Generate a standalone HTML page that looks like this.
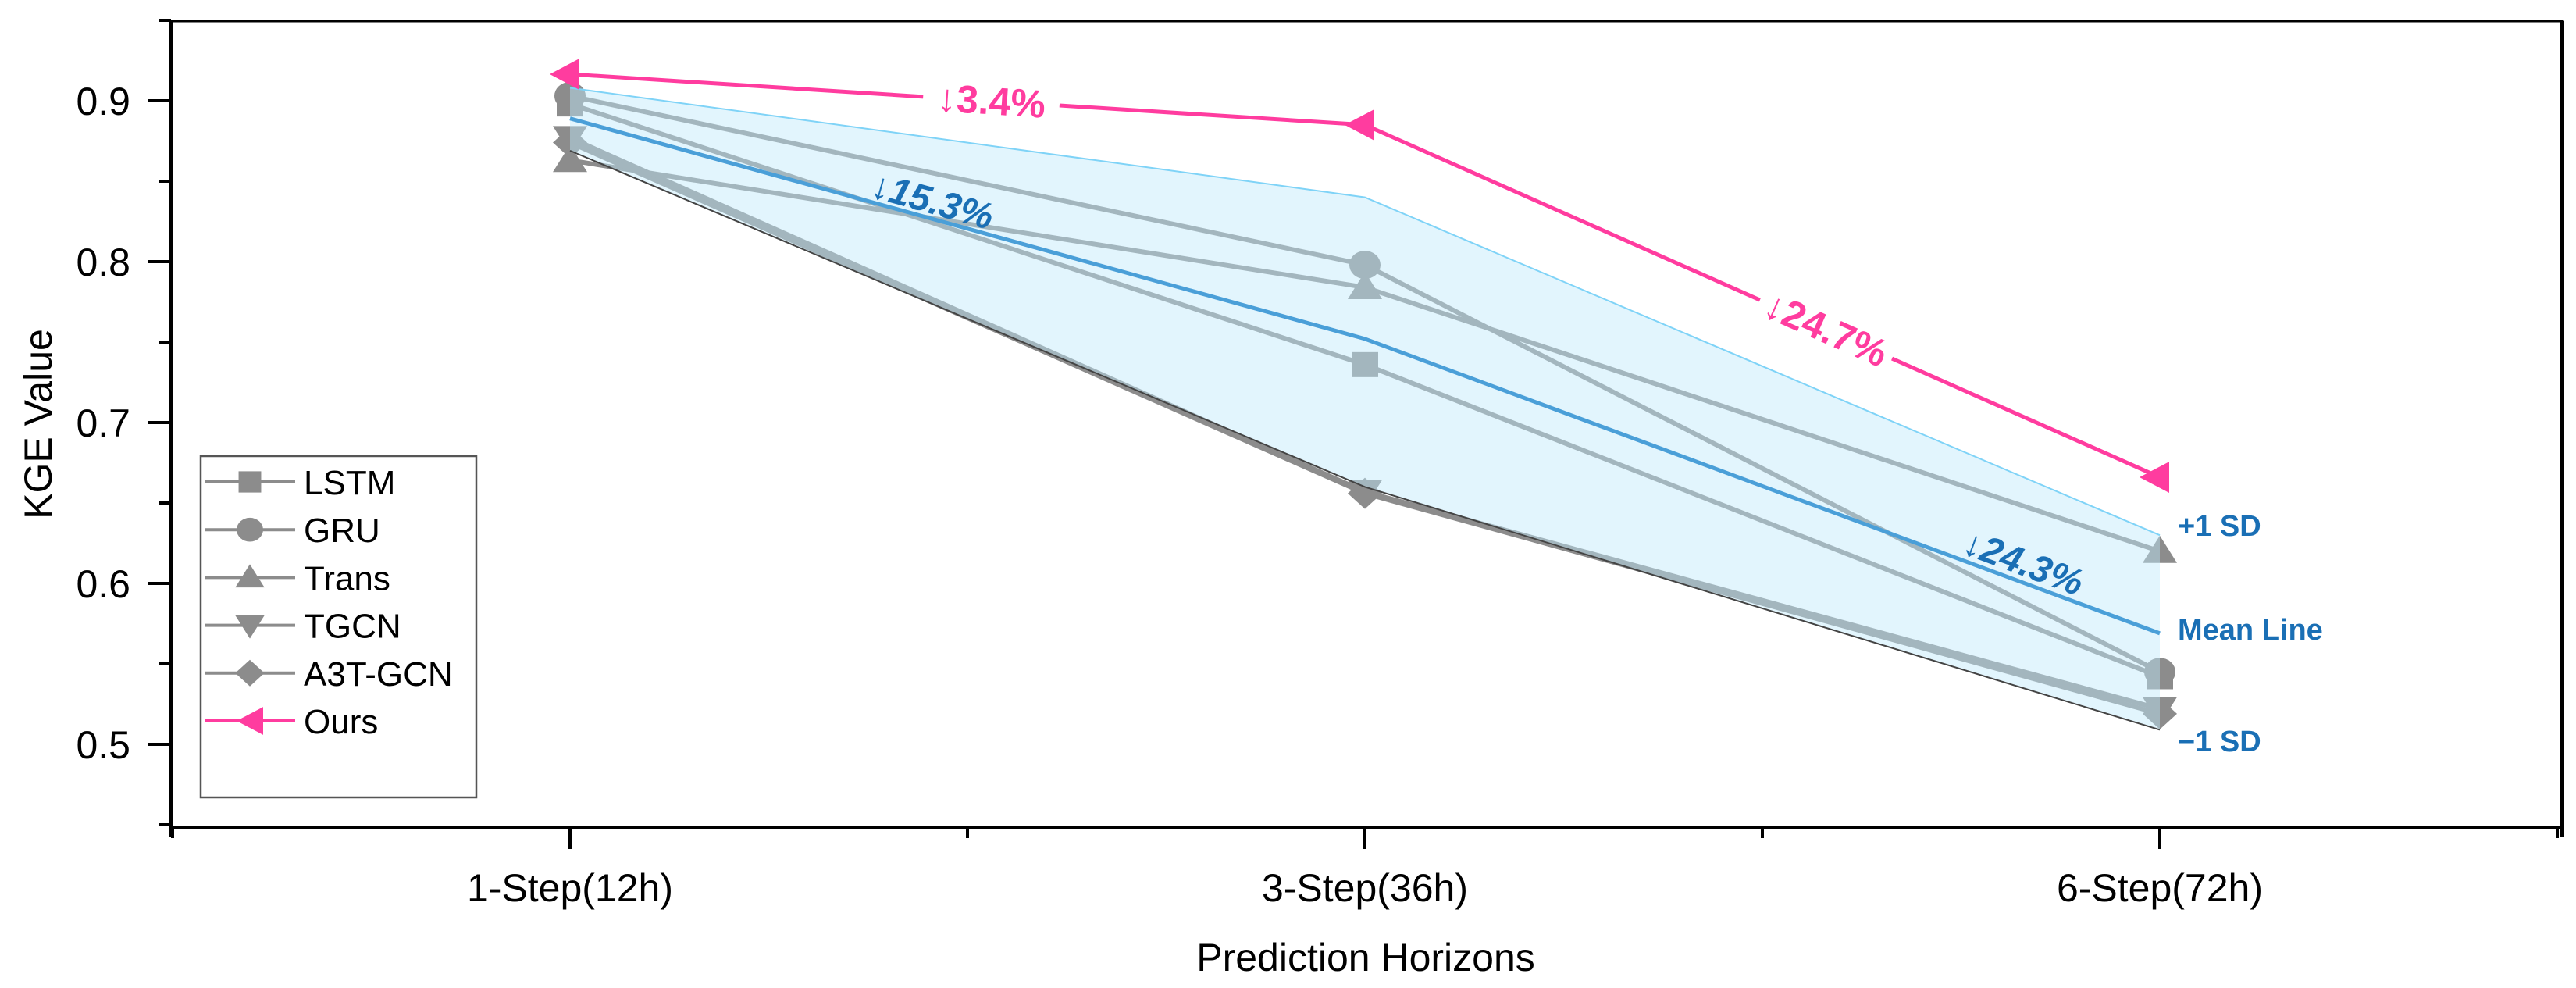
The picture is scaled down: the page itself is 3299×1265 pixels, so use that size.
<!DOCTYPE html>
<html><head><meta charset="utf-8"><style>
html,body{margin:0;padding:0;background:#fff;}
svg{display:block;font-family:"Liberation Sans",Arial,sans-serif;}
</style></head><body>
<svg id="chart" width="3299" height="1265" viewBox="0 0 3299 1265" xmlns="http://www.w3.org/2000/svg">
<g id="plot"></g>
</svg>
<script>
const categories = ["1-Step(12h)", "3-Step(36h)", "6-Step(72h)"];
const yTicks = [0.5, 0.6, 0.7, 0.8, 0.9];
const yMinor = [0.45, 0.55, 0.65, 0.75, 0.85, 0.95];
const seriesNames = ["LSTM", "GRU", "Trans", "TGCN", "A3T-GCN"];
const lstm = [0.898, 0.736, 0.542];
const gru = [0.903, 0.798, 0.545];
const trans = [0.863, 0.784, 0.620];
const tgcn = [0.877, 0.657, 0.522];
const a3t = [0.874, 0.656, 0.519];
const ours = [0.9165, 0.885, 0.666];
const meanLine = [0.889, 0.752, 0.569];
const upperSD = [0.908, 0.840, 0.630];
const lowerSD = [0.869, 0.660, 0.509];
const oursDrops = ["↓3.4%", "↓24.7%"];
const meanDrops = ["↓15.3%", "↓24.3%"];

const NS = "http://www.w3.org/2000/svg";
const g = document.getElementById("plot");
const L = 219, R = 3281, T = 27, B = 1060;
function xs(i) { return 730 + i * 1018; }
function ys(v) { return 129 + (0.9 - v) * 2060; }
function el(tag, attrs, parent) {
  const e = document.createElementNS(NS, tag);
  for (const k in attrs) e.setAttribute(k, attrs[k]);
  (parent || g).appendChild(e);
  return e;
}
function pts(arr) { return arr.map((v, i) => xs(i) + "," + ys(v)).join(" "); }
function marker(shape, cx, cy, s, fill, parent) {
  const h = s / 2;
  let e;
  if (shape === "square") e = el("rect", {x: cx - h*0.85, y: cy - h*0.8, width: s*0.85, height: s*0.8, fill: fill}, parent);
  else if (shape === "circle") e = el("ellipse", {cx: cx, cy: cy, rx: h, ry: h*0.9, fill: fill}, parent);
  else if (shape === "up") e = el("polygon", {points: `${cx},${cy-h} ${cx+h*1.1},${cy+h*0.75} ${cx-h*1.1},${cy+h*0.75}`, fill: fill}, parent);
  else if (shape === "down") e = el("polygon", {points: `${cx},${cy+h} ${cx+h*1.1},${cy-h*0.75} ${cx-h*1.1},${cy-h*0.75}`, fill: fill}, parent);
  else if (shape === "diamond") e = el("polygon", {points: `${cx},${cy-h} ${cx+h*1.1},${cy} ${cx},${cy+h} ${cx-h*1.1},${cy}`, fill: fill}, parent);
  else if (shape === "left") e = el("polygon", {points: `${cx-h},${cy} ${cx+h},${cy-h*1.05} ${cx+h},${cy+h*1.05}`, fill: fill}, parent);
  return e;
}
const shapes = ["square", "circle", "up", "down", "diamond"];
const models = [lstm, gru, trans, tgcn, a3t];
const GRAY = "#8c8c8c", PINK = "#ff3c9f", BLUE = "#1a6fb5";

models.forEach((arr, k) => {
  const ln = el("polyline", {points: pts(arr), fill: "none", stroke: GRAY, "stroke-width": 6});
  
  
  arr.forEach((v, i) => {
    const m = marker(shapes[k], xs(i), ys(v), 40, GRAY);
    
    
  });
});

const bandPts = upperSD.map((v, i) => xs(i) + "," + ys(v)).concat(lowerSD.map((v, i) => xs(i) + "," + ys(v)).reverse()).join(" ");
const band = el("polygon", {points: bandPts, fill: "#bfe9fb", "fill-opacity": 0.45, stroke: "none"});


const up = el("polyline", {points: pts(upperSD), fill: "none", stroke: "#7fd3f7", "stroke-width": 2});


const lo = el("polyline", {points: pts(lowerSD), fill: "none", stroke: "#444", "stroke-width": 2});


const mean = el("polyline", {points: pts(meanLine), fill: "none", stroke: "#4a9fd8", "stroke-width": 5});



const ol = el("polyline", {points: pts(ours), fill: "none", stroke: PINK, "stroke-width": 5});


ours.forEach((v, i) => {
  const m = marker("left", xs(i) - 7, ys(v), 38, PINK);
  
  
});

function segLabel(arr, i, t, txt, color, size, offset, name, bgw, italic) {
  const x1 = xs(i), y1 = ys(arr[i]), x2 = xs(i + 1), y2 = ys(arr[i + 1]);
  const x = x1 + (x2 - x1) * t, y = y1 + (y2 - y1) * t;
  const ang = Math.atan2(y2 - y1, x2 - x1) * 180 / Math.PI;
  const grp = el("g", {transform: `translate(${x},${y}) rotate(${ang})`});
  if (bgw) el("rect", {x: -bgw/2, y: -30, width: bgw, height: 56, fill: "#fff"}, grp);
  const tx = el("text", {x: 0, y: offset, "text-anchor": "middle", "font-size": size, "font-weight": "bold", "font-style": italic ? "italic" : "normal", fill: color}, grp);
  tx.textContent = txt;
  
  
}
segLabel(ours, 0, 0.53, oursDrops[0], PINK, 50, 17, 'drop-label-ours-1', 175, false);
segLabel(ours, 1, 0.58, oursDrops[1], PINK, 50, 17, 'drop-label-ours-2', 185, false);
segLabel(meanLine, 0, 0.45, meanDrops[0], BLUE, 48, -6, 'drop-label-mean-1', 0, true);
segLabel(meanLine, 1, 0.82, meanDrops[1], BLUE, 48, -8, 'drop-label-mean-2', 0, true);

[["+1 SD", 673, 'label-plus-sd'], ["Mean Line", 806, 'label-mean-line'], ["\u22121 SD", 949, 'label-minus-sd']].forEach(([t, y, n]) => {
  const tx = el("text", {x: 2789, y: y + 13, "font-size": 38, "font-weight": "bold", fill: BLUE});
  tx.textContent = t;
  
  
});

const frame = el("rect", {x: L, y: T, width: R - L, height: B - T, fill: "none", stroke: "#000", "stroke-width": 3});


el("line", {x1: L, y1: T - 2, x2: L, y2: B + 12, stroke: "#000", "stroke-width": 5});
el("line", {x1: L - 2, y1: B, x2: R + 2, y2: B, stroke: "#000", "stroke-width": 4});
el("line", {x1: R, y1: T, x2: R, y2: B + 12, stroke: "#000", "stroke-width": 5});
yTicks.forEach(v => {
  el("line", {x1: L - 29, y1: ys(v), x2: L, y2: ys(v), stroke: "#000", "stroke-width": 4});
  const tx = el("text", {x: L - 52, y: ys(v) + 18, "text-anchor": "end", "font-size": 50, fill: "#000"});
  tx.textContent = v.toFixed(1);
  
  
});
yMinor.forEach(v => el("line", {x1: L - 16, y1: ys(v), x2: L, y2: ys(v), stroke: "#000", "stroke-width": 4}));
categories.forEach((c, i) => {
  el("line", {x1: xs(i), y1: B, x2: xs(i), y2: B + 27, stroke: "#000", "stroke-width": 4});
  el("line", {x1: xs(i) + 509, y1: B, x2: xs(i) + 509, y2: B + 13, stroke: "#000", "stroke-width": 4});
  const tx = el("text", {x: xs(i), y: B + 94, "text-anchor": "middle", "font-size": 50, fill: "#000"});
  tx.textContent = c;
  
  
});
el("line", {x1: xs(0) - 509, y1: B, x2: xs(0) - 509, y2: B + 13, stroke: "#000", "stroke-width": 4});
const xt = el("text", {x: 1749, y: 1243, "text-anchor": "middle", "font-size": 50, fill: "#000"});
xt.textContent = "Prediction Horizons";


const yt = el("text", {x: 0, y: 0, "text-anchor": "middle", "font-size": 50, fill: "#000", transform: "translate(66,543) rotate(-90)"});
yt.textContent = "KGE Value";



const lg = el("g", {});


el("rect", {x: 257, y: 584, width: 353, height: 437, fill: "#fff", stroke: "#555", "stroke-width": 2.5}, lg);
const legNames = seriesNames.concat(["Ours"]);
const legShapes = shapes.concat(["left"]);
legNames.forEach((n, k) => {
  const y = 617 + k * 61.2;
  const col = k === 5 ? PINK : GRAY;
  const entry = el("g", {}, lg);
  
  
  el("line", {x1: 263, y1: y, x2: 378, y2: y, stroke: col, "stroke-width": 4}, entry);
  marker(legShapes[k], 320, y, 34, col, entry);
  const tx = el("text", {x: 389, y: y + 16, "font-size": 44, fill: "#000"}, entry);
  tx.textContent = n;
});
</script>
</body></html>
